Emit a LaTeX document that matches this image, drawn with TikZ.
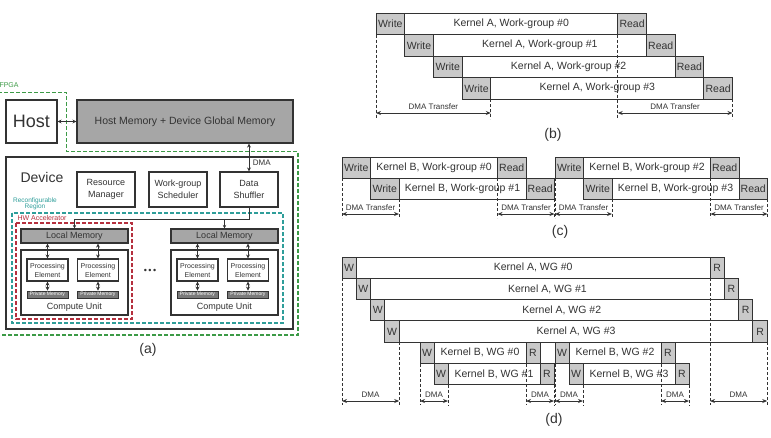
\documentclass[tikz,border=0pt]{standalone}
\usepackage{fontspec}
\setmainfont{Liberation Sans}
\usetikzlibrary{arrows.meta, positioning}
\definecolor{fpga}{HTML}{3C9A46}
\definecolor{recon}{HTML}{2E9E9A}
\definecolor{hwacc}{HTML}{B5303E}
\definecolor{ink}{HTML}{333333}
\definecolor{memgray}{HTML}{A6A6A6}
\definecolor{slotgray}{HTML}{C9C9C9}
\definecolor{privgray}{HTML}{7A7A7A}

\begin{document}
\begin{tikzpicture}[x=1pt, y=-1pt, every node/.style={text=ink},
          bx/.style={draw=ink, line width=1.1pt, fill=white, inner sep=0pt, align=center},
          gm/.style={bx, fill=memgray},
          pe/.style={bx, minimum width=41pt, minimum height=22pt, font=\fontsize{7}{9}\selectfont},
          pm/.style={draw=ink, line width=0.9pt, fill=privgray, minimum width=41pt, minimum height=7pt,
                     inner sep=0pt, font=\fontsize{5}{5}\selectfont, text=white},
          rg/.style={line width=1.2pt, dash pattern=on 4pt off 2pt},
          ar/.style={draw=ink, line width=0.9pt, -{Stealth[length=3.5pt, width=3.5pt]}},
          dar/.style={draw=ink, line width=1pt, {Stealth[length=4pt, width=4pt]}-{Stealth[length=4pt, width=4pt]}},
          sl/.style={draw=ink, line width=1pt, fill=slotgray, inner sep=0pt, outer sep=0pt,
                     anchor=north west, font=\fontsize{10.5}{12}\selectfont},
          kr/.style={sl, fill=white},
          gd/.style={draw=ink, line width=0.8pt, dash pattern=on 3pt off 2pt},
          dma/.style={draw=ink, line width=0.9pt, {Stealth[length=5pt, width=4pt]}-{Stealth[length=5pt, width=4pt]}},
          lbl/.style={font=\fontsize{8}{9}\selectfont, above=0pt},
          sub/.style={font=\fontsize{14}{16}\selectfont}
        ]
        \useasboundingbox (0,0) rectangle (771,437);

        % (a) system
        \draw[fpga, rg] (-2,92.7) -| (66.7,151.7) -| (298,335) -- (-2,335);
        \node[text=fpga, font=\fontsize{7}{8}\selectfont, anchor=west] (fpgalbl) at (-4,85) {FPGA};
        \node[bx, minimum width=51pt, minimum height=43pt, font=\fontsize{18}{20}\selectfont] (host) at (31.5,121.5) {Host};
        \node[gm, minimum width=216pt, minimum height=43pt, font=\fontsize{10.5}{12}\selectfont] (hmem) at (185,121.5)
          {Host Memory + Device Global Memory};
        \draw[dar] (host) -- (hmem);
        \node[bx, minimum width=287pt, minimum height=172pt] (dev) at (149.5,243) {};
        \node[font=\fontsize{14}{16}\selectfont, anchor=west] (devlbl) at (17,177) {Device};
        \node[bx, minimum width=58pt, minimum height=35pt, font=\fontsize{9}{11.5}\selectfont] (rm) at (106,189.5) {Resource\\Manager};
        \node[bx, minimum width=58pt, minimum height=35pt, font=\fontsize{9}{11.5}\selectfont] (wgs) at (178,189.5) {Work-group\\Scheduler};
        \node[bx, minimum width=58pt, minimum height=35pt, font=\fontsize{9}{11.5}\selectfont] (ds) at (249,189.5) {Data\\Shuffler};
        \draw[dar] (ds.north |- hmem.south) -- node[right, pos=0.7, font=\fontsize{8}{9}\selectfont] {DMA} (ds.north);

        \draw[recon, rg] (12,213) rectangle (283,323);
        \node[text=recon, font=\fontsize{6.5}{6.5}\selectfont, align=center] (rclbl) at (35,204) {Reconfigurable\\Region};
        \draw[hwacc, rg] (16,223) rectangle (132,319);
        \node[text=hwacc, font=\fontsize{7}{8}\selectfont, anchor=west] (hwlbl) at (14,217.5) {HW Accelerator};

        \foreach \u/\cx in {L/74.5, R/224.5} {
          \node[gm, minimum width=107pt, minimum height=14pt, font=\fontsize{9}{10}\selectfont] (lm\u) at (\cx,236) {Local Memory};
          \node[bx, minimum width=107pt, minimum height=65pt] (cu\u) at (\cx,282.5) {};
          \node[font=\fontsize{9}{10}\selectfont] (cut\u) at (\cx,307.5) {Compute Unit};
          \node[pe] (pe\u1) at (\cx-27,270) {Processing\\Element};
          \node[pe] (pe\u2) at (\cx+23.5,270) {Processing\\Element};
          \node[pm] (pm\u1) at (\cx-27,294.5) {Private Memory};
          \node[pm] (pm\u2) at (\cx+23.5,294.5) {Private Memory};
          \draw[dar] (pe\u1.north |- lm\u.south) -- (pe\u1.north);
          \draw[dar] (pe\u2.north |- lm\u.south) -- (pe\u2.north);
          \draw[dar] (pe\u1.south) -- (pm\u1.north);
          \draw[dar] (pe\u2.south) -- (pm\u2.north);
        }
        \coordinate (bus) at (249,219);
        \draw[ar] (ds.south) -- (bus) -| (lmL.north);
        \draw[ar] (lmR.north |- bus) -- (lmR.north);
        \node[font=\fontsize{9}{10}\selectfont] (dots) at (150,271) {\textbullet\,\textbullet\,\textbullet};
        \node[sub] (capa) at (148,350) {(a)};

        % (b) kernel A only
        \foreach \i in {0,...,3} {
          \node[sl, minimum width=28.7pt, minimum height=21.5pt] (bw\i) at (376+28.7*\i,13+21.5*\i) {Write};
          \node[kr, minimum width=213pt, minimum height=21.5pt] (bk\i) at (bw\i.north east) {Kernel A, Work-group \#\i};
          \node[sl, minimum width=28.7pt, minimum height=21.5pt] (br\i) at (bk\i.north east) {Read};
        }
        \coordinate (bend) at (0,119);
        \coordinate (barr) at (0,113);
        \draw[gd] (bw0.south west) -- (bw0.south west |- bend);
        \draw[gd] (bk3.south west) -- (bk3.south west |- bend);
        \draw[gd] (br0.south west) -- (br0.south west |- bend);
        \draw[gd] (br3.south east) -- (br3.south east |- bend);
        \draw[dma] (bw0.south west |- barr) -- node[lbl] {DMA Transfer} (bk3.south west |- barr);
        \draw[dma] (br0.south west |- barr) -- node[lbl] {DMA Transfer} (br3.south east |- barr);
        \node[sub] (capb) at (553,135) {(b)};

        % (c) kernel B only
        \foreach \g in {0,1} {
          \foreach \r in {0,1} {
            \pgfmathtruncatemacro\wg{2*\g+\r}
            \node[sl, minimum width=28.5pt, minimum height=21pt] (cw\g\r) at (342+213*\g+28.5*\r,157+21*\r) {Write};
            \node[kr, minimum width=127pt, minimum height=21pt] (ck\g\r) at (cw\g\r.north east) {Kernel B, Work-group \#\wg};
            \node[sl, minimum width=28.5pt, minimum height=21pt] (cr\g\r) at (ck\g\r.north east) {Read};
          }
        }
        \coordinate (cend) at (0,218);
        \coordinate (carr) at (0,214);
        \foreach \g in {0,1} {
          \draw[gd] (cw\g0.south west) -- (cw\g0.south west |- cend);
          \draw[gd] (ck\g1.south west) -- (ck\g1.south west |- cend);
          \draw[gd] (cr\g0.south west) -- (cr\g0.south west |- cend);
          \draw[gd] (cr\g1.south east) -- (cr\g1.south east |- cend);
          \draw[dma] (cw\g0.south west |- carr) -- node[lbl] {DMA Transfer} (ck\g1.south west |- carr);
          \draw[dma] (cr\g0.south west |- carr) -- node[lbl] {DMA Transfer} (cr\g1.south east |- carr);
        }
        \node[sub] (capc) at (560,232) {(c)};

        % (d) kernel A and B together
        \foreach \i in {0,...,3} {
          \node[sl, minimum width=14.3pt, minimum height=21.3pt] (dw\i) at (342+14.3*\i,257+21.3*\i) {W};
          \node[kr, minimum width=353.7pt, minimum height=21.3pt] (dk\i) at (dw\i.north east) {Kernel A, WG \#\i};
          \node[sl, minimum width=14.3pt, minimum height=21.3pt] (dr\i) at (dk\i.north east) {R};
        }
        \foreach \g in {0,1} {
          \foreach \r in {0,1} {
            \pgfmathtruncatemacro\wg{2*\g+\r}
            \node[sl, minimum width=14pt, minimum height=21.3pt] (ew\g\r) at (420+135*\g+14*\r,342.2+21.3*\r) {W};
            \node[kr, minimum width=92pt, minimum height=21.3pt] (ek\g\r) at (ew\g\r.north east) {Kernel B, WG \#\wg};
            \node[sl, minimum width=14pt, minimum height=21.3pt] (er\g\r) at (ek\g\r.north east) {R};
          }
        }
        \coordinate (dend) at (0,405);
        \coordinate (darr) at (0,401);
        \draw[gd] (dw0.south west) -- (dw0.south west |- dend);
        \draw[gd] (dk3.south west) -- (dk3.south west |- dend);
        \draw[gd] (dr0.south west) -- (dr0.south west |- dend);
        \draw[gd] (dr3.south east) -- (dr3.south east |- dend);
        \draw[dma] (dw0.south west |- darr) -- node[lbl] {DMA} (dk3.south west |- darr);
        \draw[dma] (dr0.south west |- darr) -- node[lbl] {DMA} (dr3.south east |- darr);
        \foreach \g in {0,1} {
          \draw[gd] (ew\g0.south west) -- (ew\g0.south west |- dend);
          \draw[gd] (ek\g1.south west) -- (ek\g1.south west |- dend);
          \draw[gd] (er\g0.south west) -- (er\g0.south west |- dend);
          \draw[gd] (er\g1.south east) -- (er\g1.south east |- dend);
          \draw[dma] (ew\g0.south west |- darr) -- node[lbl] {DMA} (ek\g1.south west |- darr);
          \draw[dma] (er\g0.south west |- darr) -- node[lbl] {DMA} (er\g1.south east |- darr);
        }
        \node[sub] (capd) at (554,420) {(d)};
      \end{tikzpicture}
\end{document}
